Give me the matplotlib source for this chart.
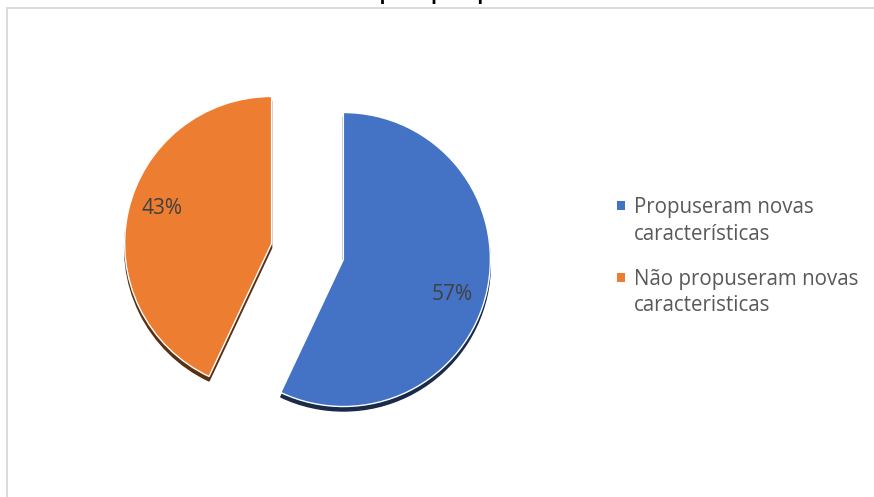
import numpy as np
import matplotlib
matplotlib.use("Agg")
import matplotlib.pyplot as plt
from matplotlib.patches import Rectangle
from matplotlib.legend_handler import HandlerPatch

# Data
categories = ["Propuseram novas\ncaracterísticas", "Não propuseram novas\ncaracteristicas"]
values = [57, 43]
colors = ["#4472C4", "#ED7D31"]
title = "Gráfico 5 – Entrevistados que propuseram novas características"

W, H = 874, 497
fig = plt.figure(figsize=(W / 100, H / 100), dpi=100)
fig.patch.set_facecolor("white")

# chart frame
fig.patches.append(Rectangle((6.5 / W, -0.05), 1.2, (1 - 7.5 / H) + 0.05,
                             transform=fig.transFigure, fill=False,
                             edgecolor="#d9d9d9", linewidth=1.3, zorder=0))

# clipped title at the very top (only its lowest pixels show)
fig.text(0.0, 1 + 2.5 / H, title, ha="left", va="baseline",
         fontsize=23, family="Liberation Sans", color="black")

cx, cy, r = 307.5, 251.5, 147.0
side = 3.0 * r
ax = fig.add_axes([(cx - side / 2) / W, (H - cy - side / 2) / H, side / W, side / H])

wedges, texts, autotexts = ax.pie(
    values, colors=colors, startangle=90, counterclock=False,
    explode=[0.25, 0.25], radius=1.0, autopct="%1.0f%%", pctdistance=0.78,
    wedgeprops=dict(edgecolor="white", linewidth=1.0),
    shadow=dict(ox=0.0, oy=-0.022, shade=0.62, alpha=1.0),
    textprops=dict(fontsize=15, family="Open Sans", color="#404040"),
)
# place the percentage labels a little clockwise of the bisector (best-fit style)
for w, t in zip(wedges, autotexts):
    mid = np.deg2rad((w.theta1 + w.theta2) / 2 - 5)
    t.set_position((w.center[0] + 0.78 * w.r * np.cos(mid),
                    w.center[1] + 0.78 * w.r * np.sin(mid)))

ax.set_xlim(-1.5, 1.5)
ax.set_ylim(-1.5, 1.5)
ax.set_aspect("equal")
ax.axis("off")

FS = 14.8


class TopSquare(HandlerPatch):
    def create_artists(self, legend, orig_handle, xdescent, ydescent, width,
                       height, fontsize, trans):
        s = fontsize * 0.42
        x = -xdescent + (width - s) / 2
        y = -ydescent + height / 2 - s / 2 + fontsize * 0.78
        p = Rectangle((x, y), s, s, facecolor=orig_handle.get_facecolor(),
                      edgecolor="none", transform=trans)
        return [p]


leg = ax.legend(wedges, categories, loc="upper left",
                bbox_to_anchor=(615 / W, 1 - 197 / H), bbox_transform=fig.transFigure,
                frameon=False, borderpad=0, borderaxespad=0,
                handlelength=0.6, handletextpad=0.3, labelspacing=1.15,
                prop=dict(family="Open Sans", size=FS),
                handler_map={w: TopSquare() for w in wedges})
for t in leg.get_texts():
    t.set_color("#595959")
    t.set_linespacing(1.37)

fig.savefig("out.png", dpi=100, facecolor="white")
